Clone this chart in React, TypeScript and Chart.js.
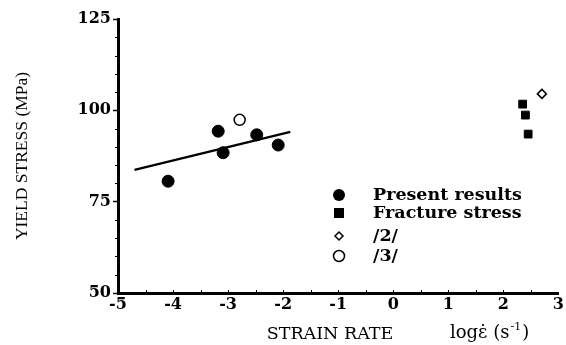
import React, { useEffect, useRef } from "react";
import { Chart, registerables } from "chart.js";

Chart.register(...registerables);

const presentX = [-4.09, -3.18, -3.09, -2.48, -2.09];
const presentY = [80.6, 94.3, 88.4, 93.3, 90.5];
const fractureX = [2.35, 2.4, 2.45];
const fractureY = [101.7, 98.7, 93.5];
const ref2X = [2.7];
const ref2Y = [104.5];
const ref3X = [-2.79];
const ref3Y = [97.4];
const fitX = [-4.7, -1.87];
const fitY = [83.7, 94.1];

const xMin = -5;
const xMax = 3;
const yMin = 50;
const yMax = 125;
const yMinorStep = 5;

const legendLabels = ["Present results", "Fracture stress", "/2/", "/3/"];
const xTitleMain = "STRAIN RATE";
const xTitleUnitA = "logε\u0307 (s";
const xTitleUnitSup = "-1";
const xTitleUnitB = ")";
const yTitle = "YIELD STRESS (MPa)";

const toPts = (xs: number[], ys: number[]) => xs.map((x, i) => ({ x, y: ys[i] }));

const SERIF = "'DejaVu Serif', serif";

function drawMarker(ctx: CanvasRenderingContext2D, kind: string, x: number, y: number) {
  ctx.save();
  ctx.strokeStyle = "#000";
  ctx.fillStyle = "#000";
  ctx.lineWidth = 1.5;
  if (kind === "circle") {
    ctx.beginPath();
    ctx.arc(x, y, 6, 0, Math.PI * 2);
    ctx.fill();
  } else if (kind === "square") {
    ctx.fillRect(x - 5, y - 5, 10, 10);
  } else if (kind === "diamond") {
    ctx.beginPath();
    ctx.moveTo(x, y - 4);
    ctx.lineTo(x + 4, y);
    ctx.lineTo(x, y + 4);
    ctx.lineTo(x - 4, y);
    ctx.closePath();
    ctx.stroke();
  } else {
    ctx.beginPath();
    ctx.arc(x, y, 5.5, 0, Math.PI * 2);
    ctx.stroke();
  }
  ctx.restore();
}

const extrasPlugin = {
  id: "extras",
  afterDraw(chart: any) {
    const ctx: CanvasRenderingContext2D = chart.ctx;
    const xs = chart.scales.x;
    const ys = chart.scales.y;
    ctx.save();
    ctx.strokeStyle = "#000";
    ctx.lineWidth = 1;
    // minor y ticks
    for (let v = yMin; v <= yMax; v += yMinorStep) {
      if (v % 25 === 0) continue;
      const py = Math.round(ys.getPixelForValue(v)) + 0.5;
      ctx.beginPath();
      ctx.moveTo(xs.left - 3, py);
      ctx.lineTo(xs.left, py);
      ctx.stroke();
    }
    // small x ticks (inward)
    for (let v = xMin + 0.5; v < xMax; v += 0.5) {
      const px = Math.round(xs.getPixelForValue(v)) + 0.5;
      ctx.beginPath();
      ctx.moveTo(px, ys.bottom);
      ctx.lineTo(px, ys.bottom - 3);
      ctx.stroke();
    }
    // x title
    ctx.fillStyle = "#000";
    ctx.textBaseline = "alphabetic";
    ctx.font = "17.5px " + SERIF;
    ctx.textAlign = "center";
    ctx.fillText(xTitleMain, 330, 339);
    ctx.textAlign = "left";
    let tx = 450;
    ctx.font = "18px " + SERIF;
    ctx.fillText(xTitleUnitA, tx, 338);
    tx += ctx.measureText(xTitleUnitA).width + 1;
    ctx.font = "11px " + SERIF;
    ctx.fillText(xTitleUnitSup, tx, 330);
    tx += ctx.measureText(xTitleUnitSup).width + 1;
    ctx.font = "18px " + SERIF;
    ctx.fillText(xTitleUnitB, tx, 338);
    // legend
    const kinds = ["circle", "square", "diamond", "open"];
    const rowY = [195, 213, 236, 256];
    ctx.textBaseline = "middle";
    ctx.font = "bold 17.5px " + SERIF;
    legendLabels.forEach((lab, i) => {
      drawMarker(ctx, kinds[i], 339, rowY[i]);
      ctx.fillStyle = "#000";
      ctx.textAlign = "left";
      ctx.fillText(lab, 373, rowY[i]);
    });
    ctx.restore();
  },
};

export default function App() {
  const ref = useRef<HTMLCanvasElement>(null);
  useEffect(() => {
    document.body.style.margin = "0";
    const canvas = ref.current!;
    const chart = new Chart(canvas, {
      type: "scatter",
      data: {
        datasets: [
          {
            label: "fit",
            data: toPts(fitX, fitY),
            showLine: true,
            borderColor: "#000",
            borderWidth: 2.2,
            pointRadius: 0,
          },
          {
            label: legendLabels[0],
            data: toPts(presentX, presentY),
            pointStyle: "circle",
            pointRadius: 6,
            backgroundColor: "#000",
            borderColor: "#000",
          },
          {
            label: legendLabels[1],
            data: toPts(fractureX, fractureY),
            pointStyle: "rect",
            pointRadius: 5.5,
            backgroundColor: "#000",
            borderColor: "#000",
          },
          {
            label: legendLabels[2],
            data: toPts(ref2X, ref2Y),
            pointStyle: "rectRot",
            pointRadius: 4.5,
            backgroundColor: "#fff",
            borderColor: "#000",
            borderWidth: 1.5,
          },
          {
            label: legendLabels[3],
            data: toPts(ref3X, ref3Y),
            pointStyle: "circle",
            pointRadius: 5.5,
            backgroundColor: "#fff",
            borderColor: "#000",
            borderWidth: 1.5,
          },
        ],
      },
      options: {
        animation: false,
        responsive: false,
        layout: { padding: { top: 19, right: 6, bottom: 0, left: 0 } },
        plugins: { legend: { display: false }, tooltip: { enabled: false } },
        scales: {
          x: {
            type: "linear",
            min: xMin,
            max: xMax,
            ticks: {
              stepSize: 1,
              color: "#000",
              font: { family: SERIF, size: 16, weight: "bold" },
              padding: 2,
              maxRotation: 0,
            },
            grid: { drawOnChartArea: false, drawTicks: false },
            border: { display: true, color: "#000", width: 3 },
            afterFit: (s: any) => {
              s.height = 52;
            },
          },
          y: {
            type: "linear",
            min: yMin,
            max: yMax,
            ticks: {
              stepSize: 25,
              color: "#000",
              font: { family: SERIF, size: 16, weight: "bold" },
              padding: 2,
            },
            grid: { drawOnChartArea: false, drawTicks: true, tickLength: 5, color: "#000", tickWidth: 1.5 },
            border: { display: true, color: "#000", width: 3 },
            title: {
              display: true,
              text: yTitle,
              color: "#000",
              font: { family: "'Liberation Serif', serif", size: 17.5 },
              padding: { top: 12, bottom: 0 },
            },
            afterFit: (s: any) => {
              s.width = 118;
            },
          },
        },
      },
      plugins: [extrasPlugin],
    });
    return () => chart.destroy();
  }, []);
  return <canvas ref={ref} width={566} height={345} style={{ display: "block" }} />;
}
